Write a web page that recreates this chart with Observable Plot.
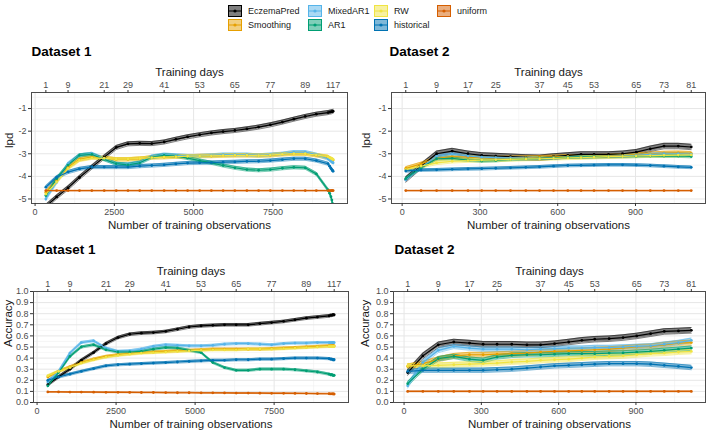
<!DOCTYPE html>
<html><head><meta charset="utf-8">
<script src="https://cdn.jsdelivr.net/npm/d3@7"></script>
<script src="https://cdn.jsdelivr.net/npm/@observablehq/plot@0.6"></script>
<style>
body{margin:0;background:#fff;font-family:"Liberation Sans",Arial,sans-serif;}
#root{position:relative;width:709px;height:432px;overflow:hidden;background:#fff;}
.panel{position:absolute;}
.leg{position:absolute;font-size:9px;color:#1a1a1a;line-height:11px;white-space:nowrap;}
.key{position:absolute;}
</style></head><body><div id="root"></div>
<script>
// ---------- data ----------
const series = ["EczemaPred","Smoothing","MixedAR1","AR1","RW","historical","uniform"];
const colors = ["#000000","#E69F00","#56B4E9","#009E73","#F0E442","#0072B2","#D55E00"];

const days1 = [1,5,9,13,17,21,25,29,33,37,41,45,49,53,57,61,65,69,73,77,81,85,89,93,97,101,105,109,113,117];
const obs1 = [340,680,1040,1400,1790,2180,2560,2930,3300,3680,4070,4440,4810,5190,5560,5930,6300,6680,7050,7420,7800,8160,8520,8870,9240,9290,9330,9360,9380,9400];
const dayTicks1 = [1,9,21,29,41,53,65,77,89,117];

const days2 = [1,5,9,13,17,21,25,29,33,37,41,45,49,53,57,61,65,69,73,77,81];
const obs2 = [14,73,133,193,254,307,361,418,477,530,584,639,690,740,796,850,903,957,1010,1065,1115];
const dayTicks2 = [1,9,17,25,37,45,53,65,73,81];

// Dataset 1 - lpd
const lpd1_EczemaPred = [-5.33,-4.91,-4.51,-4.05,-3.59,-3.15,-2.72,-2.56,-2.54,-2.55,-2.48,-2.36,-2.25,-2.16,-2.08,-2.02,-1.97,-1.9,-1.82,-1.72,-1.6,-1.47,-1.35,-1.25,-1.18,-1.16,-1.15,-1.14,-1.13,-1.12];
const lpd1_Smoothing = [-4.7,-4.19,-3.6,-3.25,-3.15,-3.19,-3.25,-3.25,-3.22,-3.16,-3.15,-3.13,-3.12,-3.1,-3.1,-3.08,-3.07,-3.07,-3.08,-3.07,-3.02,-3.0,-3.0,-3.07,-3.15,-3.2,-3.23,-3.25,-3.27,-3.28];
const lpd1_MixedAR1 = [-5.0,-4.26,-3.44,-3.07,-3.0,-3.22,-3.45,-3.47,-3.38,-3.12,-3.04,-3.07,-3.1,-3.1,-3.07,-3.04,-3.04,-3.04,-3.07,-3.04,-3.0,-2.93,-2.93,-3.04,-3.22,-3.28,-3.32,-3.35,-3.38,-3.4];
const lpd1_AR1 = [-4.85,-4.1,-3.5,-3.07,-3.03,-3.25,-3.44,-3.49,-3.4,-3.15,-3.07,-3.1,-3.19,-3.3,-3.4,-3.52,-3.62,-3.7,-3.73,-3.7,-3.64,-3.6,-3.62,-3.89,-4.6,-4.75,-4.9,-5.05,-5.2,-5.35];
const lpd1_RW = [-4.78,-4.25,-3.65,-3.28,-3.18,-3.2,-3.24,-3.24,-3.21,-3.17,-3.15,-3.13,-3.11,-3.1,-3.09,-3.08,-3.07,-3.07,-3.08,-3.06,-3.02,-3.0,-3.0,-3.06,-3.13,-3.18,-3.2,-3.22,-3.24,-3.25];
const lpd1_historical = [-4.48,-4.04,-3.81,-3.67,-3.59,-3.59,-3.59,-3.59,-3.55,-3.52,-3.49,-3.45,-3.41,-3.4,-3.39,-3.37,-3.36,-3.34,-3.33,-3.3,-3.26,-3.22,-3.22,-3.3,-3.44,-3.55,-3.64,-3.7,-3.74,-3.77];
const lpd1_uniform = [-4.63,-4.63,-4.63,-4.63,-4.63,-4.63,-4.63,-4.63,-4.63,-4.63,-4.63,-4.63,-4.63,-4.63,-4.63,-4.63,-4.63,-4.63,-4.63,-4.63,-4.63,-4.63,-4.63,-4.63,-4.63,-4.63,-4.63,-4.63,-4.63,-4.63];
const lpd1_half = [0.09,0.075,0.07,0.07,0.07,0.07,0.012];

// Dataset 1 - accuracy
const acc1_EczemaPred = [0.16,0.23,0.30,0.38,0.45,0.53,0.585,0.615,0.625,0.63,0.64,0.66,0.68,0.69,0.695,0.70,0.70,0.70,0.71,0.72,0.73,0.745,0.76,0.77,0.78,0.785,0.785,0.79,0.79,0.79];
const acc1_Smoothing = [0.23,0.28,0.32,0.36,0.39,0.415,0.43,0.44,0.45,0.455,0.46,0.465,0.47,0.475,0.48,0.48,0.48,0.48,0.48,0.485,0.49,0.495,0.50,0.505,0.51,0.51,0.51,0.51,0.51,0.51];
const acc1_MixedAR1 = [0.185,0.28,0.445,0.54,0.555,0.49,0.46,0.465,0.48,0.505,0.52,0.515,0.51,0.51,0.515,0.525,0.53,0.53,0.525,0.52,0.53,0.535,0.535,0.54,0.54,0.54,0.54,0.54,0.54,0.54];
const acc1_AR1 = [0.15,0.27,0.415,0.50,0.52,0.475,0.455,0.455,0.46,0.48,0.495,0.49,0.47,0.45,0.36,0.315,0.29,0.29,0.30,0.30,0.30,0.295,0.285,0.275,0.255,0.25,0.25,0.245,0.245,0.245];
const acc1_RW = [0.24,0.28,0.315,0.355,0.385,0.41,0.425,0.435,0.445,0.45,0.455,0.46,0.465,0.47,0.475,0.475,0.475,0.48,0.48,0.48,0.485,0.49,0.495,0.50,0.505,0.505,0.505,0.505,0.505,0.505];
const acc1_historical = [0.20,0.23,0.255,0.28,0.305,0.33,0.34,0.345,0.35,0.355,0.36,0.365,0.37,0.375,0.38,0.38,0.385,0.385,0.39,0.39,0.395,0.40,0.40,0.40,0.395,0.39,0.39,0.385,0.385,0.385];
const acc1_uniform = [0.095,0.095,0.094,0.094,0.093,0.092,0.092,0.091,0.09,0.09,0.089,0.088,0.088,0.087,0.087,0.086,0.085,0.085,0.084,0.083,0.083,0.082,0.081,0.08,0.079,0.078,0.078,0.077,0.077,0.076];
const acc1_half = [0.012,0.01,0.01,0.01,0.01,0.01,0.004];

// Dataset 2 - lpd
const lpd2_EczemaPred = [-4.14,-3.55,-3.0,-2.88,-3.0,-3.07,-3.1,-3.13,-3.16,-3.18,-3.12,-3.07,-3.03,-3.03,-3.03,-3.0,-2.93,-2.78,-2.66,-2.66,-2.7];
const lpd2_Smoothing = [-3.65,-3.45,-3.2,-3.12,-3.15,-3.17,-3.18,-3.18,-3.17,-3.16,-3.14,-3.12,-3.12,-3.11,-3.1,-3.08,-3.04,-3.0,-2.97,-2.96,-2.98];
const lpd2_MixedAR1 = [-4.15,-3.6,-3.12,-3.02,-3.1,-3.15,-3.17,-3.18,-3.19,-3.2,-3.18,-3.15,-3.14,-3.13,-3.12,-3.1,-3.07,-3.03,-3.0,-3.0,-3.02];
const lpd2_AR1 = [-4.1,-3.62,-3.22,-3.2,-3.28,-3.32,-3.3,-3.25,-3.22,-3.2,-3.18,-3.15,-3.14,-3.13,-3.12,-3.12,-3.11,-3.1,-3.1,-3.1,-3.12];
const lpd2_RW = [-3.7,-3.55,-3.4,-3.33,-3.3,-3.28,-3.27,-3.25,-3.23,-3.22,-3.2,-3.18,-3.17,-3.15,-3.13,-3.12,-3.1,-3.08,-3.07,-3.06,-3.05];
const lpd2_historical = [-3.76,-3.72,-3.71,-3.69,-3.67,-3.66,-3.64,-3.62,-3.6,-3.58,-3.55,-3.52,-3.51,-3.5,-3.49,-3.49,-3.5,-3.52,-3.55,-3.58,-3.6];
const lpd2_uniform = [-4.63,-4.63,-4.63,-4.63,-4.63,-4.63,-4.63,-4.63,-4.63,-4.63,-4.63,-4.63,-4.63,-4.63,-4.63,-4.63,-4.63,-4.63,-4.63,-4.63,-4.63];
const lpd2_half = [0.12,0.08,0.06,0.06,0.08,0.06,0.012];

// Dataset 2 - accuracy
const acc2_EczemaPred = [0.27,0.42,0.52,0.545,0.535,0.525,0.525,0.525,0.52,0.52,0.53,0.545,0.56,0.57,0.575,0.585,0.60,0.62,0.64,0.645,0.65];
const acc2_Smoothing = [0.325,0.35,0.39,0.42,0.43,0.43,0.435,0.44,0.445,0.455,0.46,0.465,0.47,0.475,0.48,0.49,0.50,0.505,0.52,0.535,0.54];
const acc2_MixedAR1 = [0.15,0.36,0.47,0.505,0.49,0.48,0.48,0.48,0.475,0.48,0.485,0.49,0.49,0.495,0.495,0.50,0.505,0.51,0.525,0.54,0.56];
const acc2_AR1 = [0.17,0.30,0.395,0.415,0.39,0.38,0.41,0.425,0.43,0.43,0.435,0.44,0.44,0.44,0.445,0.447,0.453,0.46,0.47,0.48,0.49];
const acc2_RW = [0.33,0.33,0.335,0.34,0.345,0.35,0.355,0.365,0.37,0.38,0.385,0.39,0.40,0.41,0.415,0.42,0.43,0.44,0.445,0.455,0.46];
const acc2_historical = [0.28,0.29,0.29,0.29,0.29,0.29,0.295,0.30,0.31,0.32,0.33,0.335,0.34,0.345,0.35,0.35,0.35,0.345,0.335,0.325,0.315];
const acc2_uniform = [0.1,0.1,0.1,0.1,0.1,0.1,0.1,0.1,0.1,0.1,0.1,0.1,0.1,0.1,0.1,0.1,0.1,0.1,0.1,0.1,0.1];
const acc2_half = [0.025,0.022,0.02,0.02,0.022,0.02,0.004];

// axis tick values
const xTicks1 = [0,2500,5000,7500], xMinor1 = [1250,3750,6250,8750];
const xTicks2 = [0,300,600,900], xMinor2 = [150,450,750,1050];
const yTicksLpd = [-5,-4,-3,-2,-1], yMinorLpd = [-4.5,-3.5,-2.5,-1.5,-0.5];
const yTicksAcc = [0,0.1,0.2,0.3,0.4,0.5,0.6,0.7,0.8,0.9,1.0];
const yMinorAcc = [0.05,0.15,0.25,0.35,0.45,0.55,0.65,0.75,0.85,0.95];

// ---------- drawing ----------
const root = document.getElementById("root");
const FONT = "Liberation Sans, Arial, Helvetica, sans-serif";

function panel(cfg) {
  const rows = [];
  series.forEach((s, k) => {
    cfg.vals[k].forEach((v, i) => rows.push({s, x: cfg.xs[i], y: v, lo: v - cfg.half[k], hi: v + cfg.half[k]}));
  });
  const tickObs = cfg.dayTicks.map(d => cfg.xs[cfg.days.indexOf(d)]);
  const dayMap = new Map(tickObs.map((o, n) => [o, cfg.dayTicks[n]]));
  const W = cfg.svgW, H = cfg.svgH;
  const chart = Plot.plot({
    width: W, height: H,
    marginLeft: cfg.fl, marginRight: W - cfg.fr, marginTop: cfg.ft, marginBottom: H - cfg.fb,
    x: {domain: cfg.xDomain}, y: {domain: cfg.yDomain},
    color: {domain: series, range: colors},
    style: {fontFamily: FONT, background: "white", overflow: "visible"},
    marks: [
      Plot.gridX(cfg.xMinor, {stroke: "#f0f0f0", strokeOpacity: 1, strokeWidth: 0.6}),
      Plot.gridY(cfg.yMinor, {stroke: "#f0f0f0", strokeOpacity: 1, strokeWidth: 0.6}),
      Plot.gridX(cfg.xTicks, {stroke: "#e6e6e6", strokeOpacity: 1, strokeWidth: 1}),
      Plot.gridY(cfg.yTicks, {stroke: "#e6e6e6", strokeOpacity: 1, strokeWidth: 1}),
      Plot.areaY(rows, {x: "x", y1: "lo", y2: "hi", z: "s", fill: "s", fillOpacity: 0.5, clip: true}),
      Plot.lineY(rows, {x: "x", y: "lo", z: "s", stroke: "s", strokeWidth: 0.5, clip: true}),
      Plot.lineY(rows, {x: "x", y: "hi", z: "s", stroke: "s", strokeWidth: 0.5, clip: true}),
      Plot.lineY(rows, {x: "x", y: "y", z: "s", stroke: "s", strokeWidth: 1.2, clip: true}),
      Plot.dot(rows, {x: "x", y: "y", fill: "s", r: 1.4, clip: true}),
      Plot.frame({stroke: "#4d4d4d", strokeWidth: 1}),
      Plot.axisX({anchor: "bottom", ticks: cfg.xTicks, tickSize: 3, tickPadding: 2, fontSize: 9, label: null,
                  tickFormat: d => String(d), stroke: "#333", fill: "#4d4d4d"}),
      Plot.axisX({anchor: "top", ticks: tickObs, tickSize: 3, tickPadding: 2, fontSize: 9, label: null,
                  tickFormat: d => String(dayMap.get(d)), stroke: "#333", fill: "#4d4d4d"}),
      Plot.axisY({anchor: "left", ticks: cfg.yTicks, tickSize: 3, tickPadding: 2, fontSize: 9, label: null,
                  tickFormat: cfg.yFmt, stroke: "#333", fill: "#4d4d4d"}),
      Plot.text([cfg.title], {frameAnchor: "top-left", textAnchor: "start", lineAnchor: "bottom", dy: cfg.titleDy, dx: cfg.titleDx,
                  fontWeight: "bold", fontSize: 13.5, fill: "#000"}),
      Plot.text(["Training days"], {frameAnchor: "top", lineAnchor: "middle", dy: -20, fontSize: 11.5, fill: "#1a1a1a"}),
      Plot.text(["Number of training observations"], {frameAnchor: "bottom", lineAnchor: "middle", dy: 22, fontSize: 11.5, fill: "#1a1a1a"}),
      Plot.text([cfg.yLabel], {frameAnchor: "left", lineAnchor: "middle", rotate: -90, dx: cfg.yLabDx, fontSize: 11.5, fill: "#1a1a1a"})
    ]
  });
  chart.classList.add("panel");
  chart.style.left = cfg.svgX + "px";
  chart.style.top = cfg.svgY + "px";
  root.appendChild(chart);
}

const fmtLpd = d => String(d);
const fmtAcc = d => d.toFixed(1);

panel({title: "Dataset 1", yLabel: "lpd", xs: obs1, days: days1, dayTicks: dayTicks1,
  vals: [lpd1_EczemaPred, lpd1_Smoothing, lpd1_MixedAR1, lpd1_AR1, lpd1_RW, lpd1_historical, lpd1_uniform], half: lpd1_half,
  xDomain: [-113, 9853], yDomain: [-5.2, -0.29], xTicks: xTicks1, xMinor: xMinor1, yTicks: yTicksLpd, yMinor: yMinorLpd, yFmt: fmtLpd,
  svgX: 0, svgY: 38, svgW: 355, svgH: 198, fl: 31, fr: 347, ft: 54, fb: 165, titleDy: -37, titleDx: 0, yLabDx: -22});

panel({title: "Dataset 2", yLabel: "lpd", xs: obs2, days: days2, dayTicks: dayTicks2,
  vals: [lpd2_EczemaPred, lpd2_Smoothing, lpd2_MixedAR1, lpd2_AR1, lpd2_RW, lpd2_historical, lpd2_uniform], half: lpd2_half,
  xDomain: [-41, 1170], yDomain: [-5.2, -0.29], xTicks: xTicks2, xMinor: xMinor2, yTicks: yTicksLpd, yMinor: yMinorLpd, yFmt: fmtLpd,
  svgX: 355, svgY: 38, svgW: 354, svgH: 198, fl: 36, fr: 350, ft: 54, fb: 165, titleDy: -37, titleDx: -2, yLabDx: -25});

panel({title: "Dataset 1", yLabel: "Accuracy", xs: obs1, days: days1, dayTicks: dayTicks1,
  vals: [acc1_EczemaPred, acc1_Smoothing, acc1_MixedAR1, acc1_AR1, acc1_RW, acc1_historical, acc1_uniform], half: acc1_half,
  xDomain: [-113, 9853], yDomain: [0, 1], xTicks: xTicks1, xMinor: xMinor1, yTicks: yTicksAcc, yMinor: yMinorAcc, yFmt: fmtAcc,
  svgX: 0, svgY: 236, svgW: 355, svgH: 196, fl: 33, fr: 348, ft: 55, fb: 166, titleDy: -38, titleDx: 2, yLabDx: -25});

panel({title: "Dataset 2", yLabel: "Accuracy", xs: obs2, days: days2, dayTicks: dayTicks2,
  vals: [acc2_EczemaPred, acc2_Smoothing, acc2_MixedAR1, acc2_AR1, acc2_RW, acc2_historical, acc2_uniform], half: acc2_half,
  xDomain: [-41, 1170], yDomain: [0, 1], xTicks: xTicks2, xMinor: xMinor2, yTicks: yTicksAcc, yMinor: yMinorAcc, yFmt: fmtAcc,
  svgX: 355, svgY: 236, svgW: 354, svgH: 196, fl: 38, fr: 350, ft: 55, fb: 166, titleDy: -38, titleDx: 1, yLabDx: -28});

// ---------- legend ----------
const legendCols = [228, 308, 374, 437];
const legendRows = [5, 19];
series.forEach((s, k) => {
  const col = Math.floor(k / 2), row = k % 2;
  const x = legendCols[col], y = legendRows[row];
  const c = colors[k];
  const key = document.createElementNS("http://www.w3.org/2000/svg", "svg");
  key.setAttribute("width", 14); key.setAttribute("height", 12);
  key.setAttribute("class", "key");
  key.style.left = x + "px"; key.style.top = y + "px";
  key.innerHTML = `<rect x="0.5" y="0.5" width="13" height="11" fill="${c}" fill-opacity="0.5" stroke="${c}" stroke-width="1"/>` +
    `<line x1="0.5" x2="13.5" y1="6" y2="6" stroke="${c}" stroke-width="1"/>` +
    `<circle cx="7" cy="6" r="1.6" fill="${c}"/>`;
  root.appendChild(key);
  const lab = document.createElement("div");
  lab.className = "leg";
  lab.textContent = s;
  lab.style.left = (x + 20) + "px"; lab.style.top = (y + 0.5) + "px";
  root.appendChild(lab);
});
</script>
</body></html>
